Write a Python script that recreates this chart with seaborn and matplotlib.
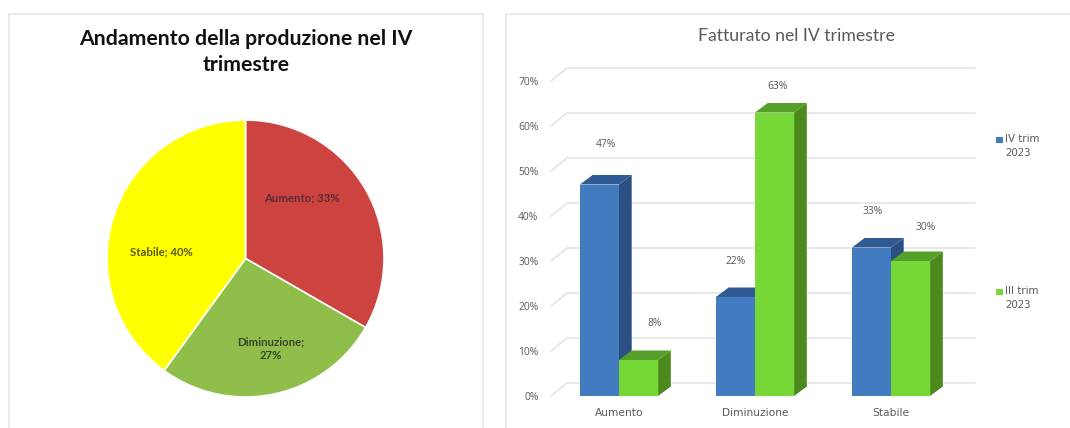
import matplotlib
matplotlib.use("Agg")
import matplotlib.pyplot as plt
from matplotlib.lines import Line2D
import pandas as pd
import seaborn as sns

W, H = 1070, 428

# ---- data ----
pie_title = "Andamento della produzione nel IV\ntrimestre"
pie_categories = ["Aumento", "Diminuzione", "Stabile"]
pie_values = [33.3, 26.7, 40]

bar_title = "Fatturato nel IV trimestre"
bar_categories = ["Aumento", "Diminuzione", "Stabile"]
series_names = ["IV trim\n2023", "III trim\n2023"]
iv_trim = [47, 22, 33]
iii_trim = [8, 63, 30]
y_ticks = [0, 10, 20, 30, 40, 50, 60, 70]

# ---- style ----
sns.set_theme(style="white")
plt.rcParams["font.family"] = ["Lato", "DejaVu Sans"]
GREY = "#595959"
PIE_COLORS = ["#CC4340", "#8FBF4A", "#FFFF00"]
FRONT = ["#437BC1", "#76D938"]
SIDE = ["#2B4F82", "#4B8A1D"]
TOP = ["#2F5A94", "#56A02A"]
FRAME = "#E6E6E6"


def box(x0, y0, x1, y1):
    """Axes rectangle from pixel edges (y measured from the top)."""
    return [x0 / W, 1 - y1 / H, (x1 - x0) / W, (y1 - y0) / H]


fig = plt.figure(figsize=(W / 100, H / 100), dpi=100, facecolor="white")

# panel frames, open at the bottom / right like the screenshot
for xs, ys in [
    ([8.5, 8.5, 482.5, 482.5], [428, 13.5, 13.5, 428]),
    ([505.5, 505.5, 1070], [428, 13.5, 13.5]),
]:
    fig.add_artist(Line2D([x / W for x in xs], [1 - y / H for y in ys],
                          color=FRAME, lw=1.1, transform=fig.transFigure))

# ---- pie ----
R = 138.5
CX, CY = 245.5, 258.5
ax_p = fig.add_axes(box(CX - R, CY - R, CX + R, CY + R))
ax_p.pie(pie_values, colors=PIE_COLORS, startangle=90, counterclock=False, radius=1,
         wedgeprops=dict(edgecolor="white", linewidth=1.2))
ax_p.set_xlim(-1, 1)
ax_p.set_ylim(-1, 1)
ax_p.set_aspect("equal")

pie_label_px = [(302, 198), (271, 349), (161, 252)]
pie_label_text = [f"{pie_categories[0]}; {pie_values[0]:.0f}%",
                  f"{pie_categories[1]};\n{pie_values[1]:.0f}%",
                  f"{pie_categories[2]}; {pie_values[2]:.0f}%"]
pie_label_col = ["#5A2B35", "#33472B", "#5A5A00"]
for (px, py), s, c in zip(pie_label_px, pie_label_text, pie_label_col):
    ax_p.text((px - CX) / R, (CY - py) / R, s, ha="center", va="center", fontsize=8.2,
              fontweight="bold", color=c, linespacing=1.3)

fig.text(246 / W, 1 - 52 / H, pie_title, ha="center", va="center", fontsize=15.3,
         fontweight="bold", color="#111111", linespacing=1.35)

# ---- bars ----
ax = fig.add_axes(box(551, 81, 959, 396))
ax.patch.set_alpha(0)
df = pd.DataFrame({
    "cat": bar_categories * 2,
    "val": iv_trim + iii_trim,
    "series": [series_names[0]] * 3 + [series_names[1]] * 3,
})
sns.barplot(data=df, x="cat", y="val", hue="series", hue_order=series_names,
            palette=FRONT, width=0.575, gap=0, saturation=1, legend=False, ax=ax,
            linewidth=0)
ax.set_xlim(-0.5, 2.5)
ax.set_ylim(0, 70)
ax.set_xlabel("")
ax.set_ylabel("")
sns.despine(ax=ax, left=True, bottom=True, top=True, right=True)

px_x = 408 / 3        # pixels per category unit
px_y = 315 / 70       # pixels per percent
side_dx, side_dy = 12.7 / px_x, 9.5 / px_y
wall_dx, wall_dy = 16 / px_x, 13 / px_y

# back wall gridlines, with the short diagonal on the left wall
for t in y_ticks:
    ax.plot([-0.5, -0.5 + wall_dx, 2.5 + wall_dx], [t, t + wall_dy, t + wall_dy],
            color="#E4E4E4", lw=1.2, clip_on=False, zorder=1, solid_joinstyle="miter")

# extruded faces derived from each bar
for s, cont in enumerate(ax.containers):
    for bar in cont:
        x0, x1 = bar.get_x(), bar.get_x() + bar.get_width()
        v = bar.get_height()
        base = 2 + 2 * s
        ax.fill([x1, x1 + side_dx, x1 + side_dx, x1], [0, side_dy, v + side_dy, v],
                color=SIDE[s], lw=0, zorder=base, clip_on=False)
        ax.fill([x0, x0 + side_dx, x1 + side_dx, x1], [v, v + side_dy, v + side_dy, v],
                color=TOP[s], lw=0, zorder=base, clip_on=False)
        bar.set_zorder(base + 1)
        bar.set_clip_on(False)

# data labels, offsets in pixels from the top of each bar
label_offsets = [[(6.5, 40), (0, 35), (1.5, 36)], [(16.5, 37), (3, 26), (15, 33)]]
for s, cont in enumerate(ax.containers):
    for bar, off in zip(cont, label_offsets[s]):
        ax.annotate(f"{bar.get_height():.0f}%",
                    (bar.get_x() + bar.get_width() / 2, bar.get_height()),
                    xytext=off, textcoords="offset pixels", ha="center", va="center",
                    fontsize=7.4, color=GREY, zorder=10, annotation_clip=False,
                    family="Open Sans")

ax.set_yticks(y_ticks)
ax.set_yticklabels([f"{t}%" for t in y_ticks], fontsize=7.4, color=GREY, family="Open Sans")
ax.set_xticks(range(3))
ax.set_xticklabels(bar_categories, fontsize=7.7, color=GREY, family="DejaVu Sans")
ax.tick_params(axis="both", length=0)
ax.tick_params(axis="y", pad=9)
ax.tick_params(axis="x", pad=9)

fig.text(796 / W, 1 - 36 / H, bar_title, ha="center", va="center", fontsize=12.7,
         color=GREY)

# legend
for name, col, y in zip(series_names, FRONT, (146, 298)):
    ax.add_artist(plt.Rectangle((996 / W, 1 - (y - 3) / H), 6.5 / W, 6.5 / H,
                                transform=fig.transFigure, color=col, clip_on=False, lw=0))
    fig.text(1005 / W, 1 - y / H, name, ha="left", va="center", fontsize=7.4,
             color=GREY, family="DejaVu Sans", linespacing=1.5)

fig.savefig("out.png", dpi=100, facecolor="white")
